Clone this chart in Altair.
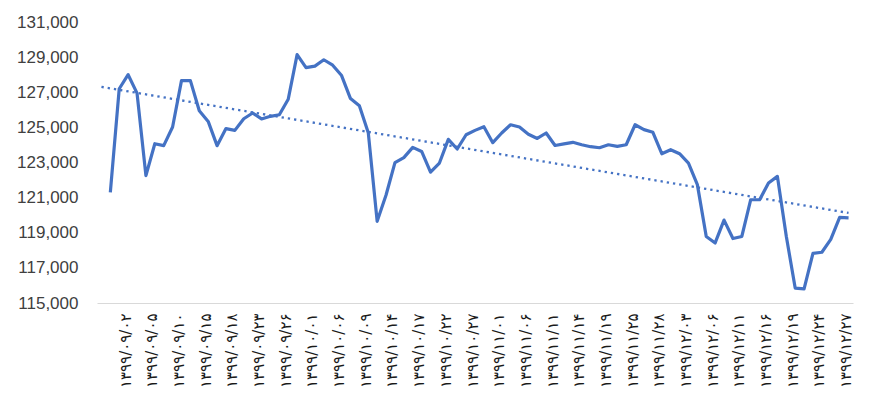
import altair as alt
import pandas as pd

# Closing values (one per trading day)
values = [
    121300, 127200, 128000, 126950, 122250, 124070, 123960, 125020, 127660, 127660,
    125950, 125340, 123960, 124930, 124830, 125490, 125820, 125480, 125630, 125720,
    126600, 129140, 128400, 128490, 128850, 128540, 127950, 126640, 126230, 124700,
    119650, 121150, 122990, 123280, 123860, 123630, 122450, 122970, 124320, 123770,
    124580, 124830, 125040, 124130, 124680, 125150, 125020, 124610, 124370, 124680,
    123970, 124060, 124150, 124010, 123900, 123840, 124010, 123920, 124010, 125150,
    124870, 124720, 123500, 123730, 123500, 122970, 121740, 118790, 118420, 119720,
    118670, 118790, 120880, 120880, 121830, 122210, 118800, 115850, 115800, 117830,
    117890, 118620, 119870, 119850,
]

# Date labels shown on the category axis (every third day)
tick_labels = [
    "۱۳۹۹/۰۹/۰۲", "۱۳۹۹/۰۹/۰۵", "۱۳۹۹/۰۹/۱۰", "۱۳۹۹/۰۹/۱۵", "۱۳۹۹/۰۹/۱۸",
    "۱۳۹۹/۰۹/۲۳", "۱۳۹۹/۰۹/۲۶", "۱۳۹۹/۱۰/۰۱", "۱۳۹۹/۱۰/۰۶", "۱۳۹۹/۱۰/۰۹",
    "۱۳۹۹/۱۰/۱۴", "۱۳۹۹/۱۰/۱۷", "۱۳۹۹/۱۰/۲۲", "۱۳۹۹/۱۰/۲۷", "۱۳۹۹/۱۱/۰۱",
    "۱۳۹۹/۱۱/۰۶", "۱۳۹۹/۱۱/۱۱", "۱۳۹۹/۱۱/۱۴", "۱۳۹۹/۱۱/۱۹", "۱۳۹۹/۱۱/۲۵",
    "۱۳۹۹/۱۱/۲۸", "۱۳۹۹/۱۲/۰۳", "۱۳۹۹/۱۲/۰۶", "۱۳۹۹/۱۲/۱۱", "۱۳۹۹/۱۲/۱۶",
    "۱۳۹۹/۱۲/۱۹", "۱۳۹۹/۱۲/۲۴", "۱۳۹۹/۱۲/۲۷",
]
tick_index = list(range(2, 2 + 3 * len(tick_labels), 3))

y_ticks = list(range(115000, 131001, 2000))

df = pd.DataFrame({"i": list(range(len(values))), "v": values})

labels_js = "[" + ",".join("'" + s + "'" for s in tick_labels) + "]"
label_expr = labels_js + "[round((datum.value - 2) / 3)]"

x_enc = alt.X(
    "i:Q",
    scale=alt.Scale(domain=[-1.5, 83.5], nice=False, zero=False),
    axis=alt.Axis(
        values=tick_index,
        labelExpr=label_expr,
        labelAngle=270,
        labelAlign="right",
        labelBaseline="middle",
        labelFont="DejaVu Sans",
        labelFontSize=15,
        labelColor="#1a1a1a",
        labelPadding=10,
        labelOffset=-3,
        labelOverlap=False,
        ticks=False,
        grid=False,
        domainColor="#d9d9d9",
        domainWidth=1,
        title=None,
    ),
)
y_enc = alt.Y(
    "v:Q",
    scale=alt.Scale(domain=[115000, 131000], nice=False, zero=False),
    axis=alt.Axis(
        values=y_ticks,
        format=",.0f",
        labelFont="Liberation Sans",
        labelFontSize=17,
        labelColor="#404040",
        labelPadding=19,
        ticks=False,
        grid=False,
        domain=False,
        title=None,
    ),
)

line = alt.Chart(df).mark_line(color="#4472C4", strokeWidth=3.2, strokeJoin="round").encode(
    x=x_enc, y=y_enc
)

trend = (
    alt.Chart(df)
    .transform_regression("i", "v", extent=[-1, 83])
    .mark_line(color="#4472C4", strokeWidth=2.3, strokeDash=[2.3, 4])
    .encode(x=x_enc, y=y_enc)
)

chart = (
    alt.layer(line, trend)
    .properties(
        width=756,
        height=281,
        autosize=alt.AutoSizeParams(type="none"),
        padding={"left": 89, "top": 14, "right": 16, "bottom": 100},
    )
    .configure_view(stroke=None)
)

chart.save("out.html", embed_options={"renderer": "svg", "actions": False})
